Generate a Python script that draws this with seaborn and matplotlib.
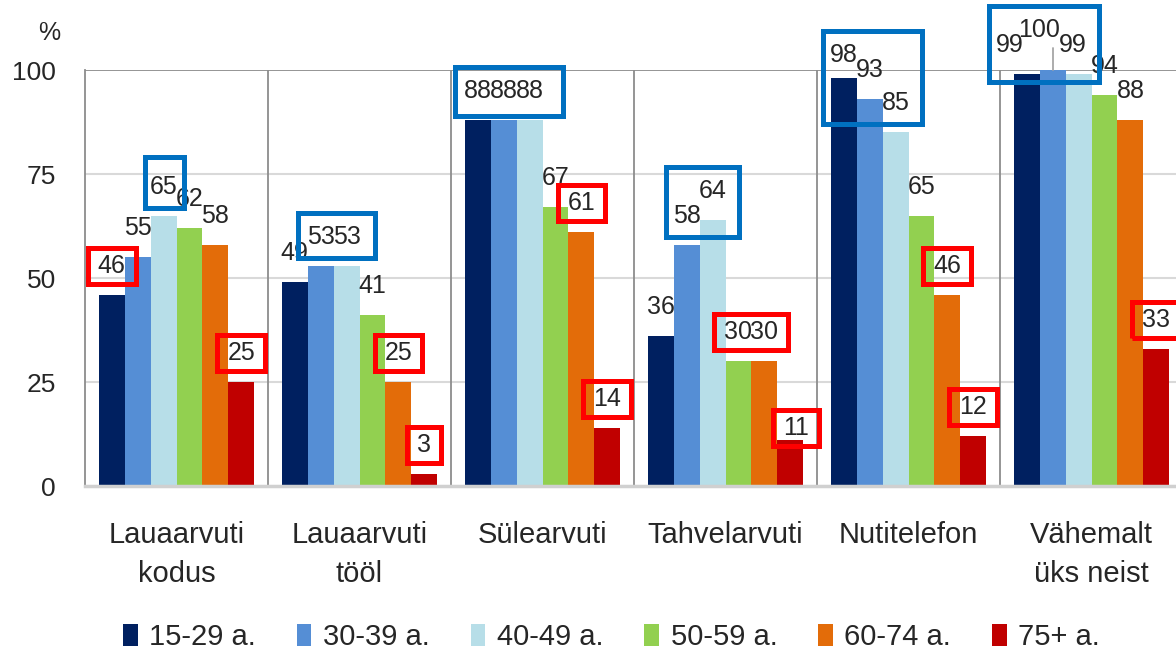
import numpy as np
import pandas as pd
import seaborn as sns
import matplotlib.pyplot as plt
from matplotlib.patches import Rectangle
from matplotlib.lines import Line2D
from matplotlib.transforms import IdentityTransform, Bbox

# andmed
seadmed = ["Lauaarvuti\nkodus", "Lauaarvuti\ntööl", "Sülearvuti",
           "Tahvelarvuti", "Nutitelefon", "Vähemalt\nüks neist"]
vanused = ["15-29 a.", "30-39 a.", "40-49 a.", "50-59 a.", "60-74 a.", "75+ a."]
v15_29 = [46, 49, 88, 36, 98, 99]
v30_39 = [55, 53, 88, 58, 93, 100]
v40_49 = [65, 53, 88, 64, 85, 99]
v50_59 = [62, 41, 67, 30, 65, 94]
v60_74 = [58, 25, 61, 30, 46, 88]
v75 = [25, 3, 14, 11, 12, 33]
y_ticks = [0, 25, 50, 75, 100]

varvid = ["#002060", "#558ED5", "#B7DEE8", "#92D050", "#E36C09", "#C00000"]

# esile tõstetud sildid: (seade, esimene vanuserühm, viimane vanuserühm)
sinised = [(0, 2, 2), (1, 1, 2), (2, 0, 2), (3, 1, 2), (4, 0, 2), (5, 0, 2)]
punased = [(0, 0, 0), (0, 5, 5), (1, 4, 4), (1, 5, 5), (2, 4, 4), (2, 5, 5),
           (3, 3, 4), (3, 5, 5), (4, 4, 4), (4, 5, 5), (5, 5, 5)]
# käsitsi nihutatud sildid (pikslites)
nihked = {(3, 5): (6, -17), (4, 0): (0, -6), (5, 0): (-17, 0),
          (5, 1): (-14, 11), (5, 2): (-6, 0)}
# kastide lisavaru (vasak, parem, üleval, all)
kasti_varu = {(5, 0, 2): (0, 0, 0, 16), (0, 2, 2): (-2, -6, 6, 0),
              (2, 0, 2): (2, 6, 0, 4), (1, 1, 2): (2, 2, 0, 0)}

df = pd.DataFrame({
    "seade": np.tile(seadmed, len(vanused)),
    "vanus": np.repeat(vanused, len(seadmed)),
    "osakaal": np.concatenate([v15_29, v30_39, v40_49, v50_59, v60_74, v75]),
})

sns.set_theme(style="white")
plt.rcParams["font.family"] = ["Liberation Sans", "DejaVu Sans"]
FS = 19
FS_LBL = 18
FS_CAT = 21

fig = plt.figure(figsize=(11.76, 6.53), dpi=100)
ax = fig.add_axes([85 / 1176, 167 / 653, 1098 / 1176, 416 / 653])

sns.barplot(data=df, x="seade", y="osakaal", hue="vanus", palette=varvid,
            width=0.85, gap=0, saturation=1, linewidth=0, ax=ax, zorder=2)

ax.set_ylim(0, 100)
ax.set_xlim(-0.5, 5.5)
ax.set_yticks(y_ticks)
ax.set_xlabel("")
ax.set_ylabel("")
ax.tick_params(axis="y", length=0, pad=21, labelsize=FS)
ax.tick_params(axis="x", length=0, pad=25, labelsize=FS_CAT)
for lbl in ax.get_xticklabels():
    lbl.set_linespacing(1.5)

for y in [25, 50, 75]:
    ax.axhline(y, color="#D9D9D9", lw=1.5, zorder=0)
ax.axhline(100, color="#8C8C8C", lw=1.3, zorder=1)
for k in range(1, 6):
    ax.axvline(k - 0.5, color="#8C8C8C", lw=1.3, zorder=1)
for s in ["top", "right"]:
    ax.spines[s].set_visible(False)
ax.spines["left"].set_color("#8C8C8C")
ax.spines["left"].set_linewidth(1.3)
ax.spines["bottom"].set_color("#D0D0D0")
ax.spines["bottom"].set_linewidth(2.5)

handles, labels = ax.get_legend_handles_labels()
ax.legend_.remove()
fig.legend(handles, labels, loc="center", bbox_to_anchor=(0.52, 1 - 637 / 653),
           ncol=6, frameon=False, fontsize=FS_CAT, handlelength=0.5, handleheight=0.8,
           handletextpad=0.4, columnspacing=1.4)

fig.text(49 / 1176, 1 - 33 / 653, "%", ha="center", va="center", fontsize=18)

# andmesildid
sildid = {}
for j, cont in enumerate(ax.containers):
    for i, bar in enumerate(cont):
        x = bar.get_x() + bar.get_width() / 2
        h = bar.get_height()
        dx, dy = nihked.get((i, j), (0, 0))
        t = ax.annotate(f"{h:.0f}", xy=(x, h), xytext=(dx, 29 + dy),
                        textcoords="offset pixels", ha="center", va="center",
                        fontsize=FS_LBL, annotation_clip=False, zorder=4)
        sildid[(i, j)] = t

fig.canvas.draw()
renderer = fig.canvas.get_renderer()

# 100 juhtjoon
t100 = sildid[(5, 1)]
bb = t100.get_window_extent(renderer)
bar = ax.containers[1][5]
bx, by = ax.transData.transform((bar.get_x() + bar.get_width() / 2, bar.get_height()))
fig.add_artist(Line2D([bx, bx], [by, bb.y0 - 6], color="#A6A6A6", lw=1.3,
                      transform=IdentityTransform()))


def kast(i, a, b, color, pad):
    extra = kasti_varu.get((i, a, b), (0, 0, 0, 0))
    l, r, tp, bt = [p + e for p, e in zip(pad, extra)]
    bbs = [sildid[(i, j)].get_window_extent(renderer) for j in range(a, b + 1)]
    u = Bbox.union(bbs)
    fig.add_artist(Rectangle((u.x0 - l, u.y0 - bt), u.width + l + r, u.height + tp + bt,
                             fill=False, edgecolor=color, lw=3.6,
                             transform=IdentityTransform(), zorder=5))


for i, a, b in sinised:
    kast(i, a, b, "#0070C0", (7, 13, 12, 9))
for i, a, b in punased:
    kast(i, a, b, "#FF0000", (10, 10, 6, 6))

fig.savefig("out.png", dpi=100)
